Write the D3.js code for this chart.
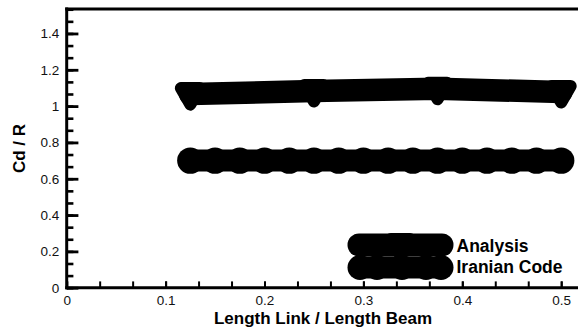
<!DOCTYPE html>
<html>
<head>
<meta charset="utf-8">
<script src="https://cdn.jsdelivr.net/npm/d3@7"></script>
<style>
  html, body { margin: 0; padding: 0; background: #fff; }
  svg { display: block; font-family: "Liberation Sans", Arial, sans-serif; }
</style>
</head>
<body>
<svg id="chart" width="578" height="328"></svg>
<script>
// ---- data ----
const seriesNames = ["Analysis", "Iranian Code"];
const analysisX = [0.125, 0.25, 0.375, 0.5];
const analysisY = [1.066, 1.083, 1.095, 1.078];
const iranianX = [0.125, 0.15, 0.175, 0.2, 0.225, 0.25, 0.275, 0.3, 0.325, 0.35, 0.375, 0.4, 0.425, 0.45, 0.475, 0.5];
const iranianY = [0.7, 0.7, 0.7, 0.7, 0.7, 0.7, 0.7, 0.7, 0.7, 0.7, 0.7, 0.7, 0.7, 0.7, 0.7, 0.7];
const xTickValues = [0, 0.1, 0.2, 0.3, 0.4, 0.5];
const xTickLabels = ["0", "0.1", "0.2", "0.3", "0.4", "0.5"];
const yTickValues = [0, 0.2, 0.4, 0.6, 0.8, 1, 1.2, 1.4];
const yTickLabels = ["0", "0.2", "0.4", "0.6", "0.8", "1", "1.2", "1.4"];
const xTitle = "Length Link / Length Beam";
const yTitle = "Cd / R";

// ---- layout ----
const pLeft = 66.7, pRight = 578, pTop = 9, pBottom = 287.7;
const pxPerX = 989, pxPerY = 181.6;
const x = d3.scaleLinear().domain([0, (pRight - pLeft) / pxPerX]).range([pLeft, pRight]);
const y = d3.scaleLinear().domain([0, (pBottom - pTop) / pxPerY]).range([pBottom, pTop]);

const svg = d3.select("#chart");

// minor ticks
const xMinor = d3.range(0, 16).map(i => i / 30).filter(v => v <= x.domain()[1]);
const yMinor = d3.range(0, 24).map(i => i * 0.2 / 3).filter(v => v <= y.domain()[1]);

const gxMinor = svg.append("g").attr("transform", `translate(0,${pBottom})`)
  .call(d3.axisBottom(x).tickValues(xMinor).tickSize(-6.3).tickFormat(""));
gxMinor.select(".domain").remove();
gxMinor.selectAll("line").attr("stroke", "#000").attr("stroke-width", 2);

const gyMinor = svg.append("g").attr("transform", `translate(${pLeft},0)`)
  .call(d3.axisLeft(y).tickValues(yMinor).tickSize(-6.7).tickFormat(""));
gyMinor.select(".domain").remove();
gyMinor.selectAll("line").attr("stroke", "#000").attr("stroke-width", 2.6);

// major axes
const gx = svg.append("g").attr("transform", `translate(0,${pBottom})`)
  .call(d3.axisBottom(x).tickValues(xTickValues).tickSize(-6.3).tickPadding(7.7)
    .tickFormat((d, i) => xTickLabels[i]));
gx.select(".domain").remove();
gx.selectAll("line").attr("stroke", "#000").attr("stroke-width", 2);
gx.selectAll("text").attr("fill", "#111").style("font-size", "13.5px");

const gy = svg.append("g").attr("transform", `translate(${pLeft},0)`)
  .call(d3.axisLeft(y).tickValues(yTickValues).tickSize(-11.7).tickPadding(7.4)
    .tickFormat((d, i) => yTickLabels[i]));
gy.select(".domain").remove();
gy.selectAll("line").attr("stroke", "#000").attr("stroke-width", 2.8);
gy.selectAll("text").attr("fill", "#111").style("font-size", "13.5px");

// spines
svg.append("line").attr("x1", pLeft - 1.5).attr("x2", pRight).attr("y1", pBottom).attr("y2", pBottom)
  .attr("stroke", "#000").attr("stroke-width", 3);
svg.append("line").attr("x1", pLeft - 1.5).attr("x2", pRight).attr("y1", pTop).attr("y2", pTop)
  .attr("stroke", "#000").attr("stroke-width", 3);
svg.append("line").attr("x1", pLeft).attr("x2", pLeft).attr("y1", pTop - 1.5).attr("y2", pBottom + 1.5)
  .attr("stroke", "#000").attr("stroke-width", 3);

// ---- series ----
const analysis = analysisX.map((v, i) => [v, analysisY[i]]);
const iranian = iranianX.map((v, i) => [v, iranianY[i]]);
const line = d3.line().x(d => x(d[0])).y(d => y(d[1]));

function triPath(cx, cy) {
  return `M${cx - 9.5},${cy - 6}L${cx + 9.5},${cy - 6}L${cx},${cy + 10.5}Z`;
}

// Iranian Code
svg.append("path").datum(iranian).attr("d", line)
  .attr("fill", "none").attr("stroke", "#000").attr("stroke-width", 22);
svg.append("g").selectAll("circle").data(iranian).join("circle")
  .attr("cx", d => x(d[0])).attr("cy", d => y(d[1])).attr("r", 13.2).attr("fill", "#000");

// Analysis
svg.append("path").datum(analysis).attr("d", line)
  .attr("fill", "none").attr("stroke", "#000").attr("stroke-width", 22.5)
  .attr("stroke-linecap", "round").attr("stroke-linejoin", "round");
svg.append("g").selectAll("path").data(analysis).join("path")
  .attr("d", d => triPath(x(d[0]), y(d[1])))
  .attr("fill", "#000").attr("stroke", "#000").attr("stroke-width", 12).attr("stroke-linejoin", "round");

// ---- legend ----
const lg = svg.append("g");
const lx1 = 359, lx2 = 442, ly1 = 245, ly2 = 267.5;
lg.append("line").attr("x1", lx1).attr("x2", lx2).attr("y1", ly1).attr("y2", ly1)
  .attr("stroke", "#000").attr("stroke-width", 23).attr("stroke-linecap", "round");
lg.append("path").attr("d", triPath((lx1 + lx2) / 2, ly1))
  .attr("fill", "#000").attr("stroke", "#000").attr("stroke-width", 12).attr("stroke-linejoin", "round");
lg.append("line").attr("x1", lx1).attr("x2", lx2).attr("y1", ly2).attr("y2", ly2)
  .attr("stroke", "#000").attr("stroke-width", 22);
[lx1 + 1, 377, 402, 426, lx2 - 1].forEach(cx => {
  lg.append("circle").attr("cx", cx).attr("cy", ly2).attr("r", 12.5).attr("fill", "#000");
});
lg.append("text").attr("x", 456.5).attr("y", 251.7).text(seriesNames[0])
  .style("font-size", "17.5px").style("font-weight", "bold").attr("fill", "#000");
lg.append("text").attr("x", 456.5).attr("y", 272.7).text(seriesNames[1])
  .style("font-size", "17.5px").style("font-weight", "bold").attr("fill", "#000");

// ---- titles ----
svg.append("text").attr("x", 323).attr("y", 324).attr("text-anchor", "middle")
  .style("font-size", "17px").style("font-weight", "bold").text(xTitle);
svg.append("text").attr("transform", "translate(25,148.5) rotate(-90)").attr("text-anchor", "middle")
  .style("font-size", "17px").style("font-weight", "bold").text(yTitle);
</script>
</body>
</html>
